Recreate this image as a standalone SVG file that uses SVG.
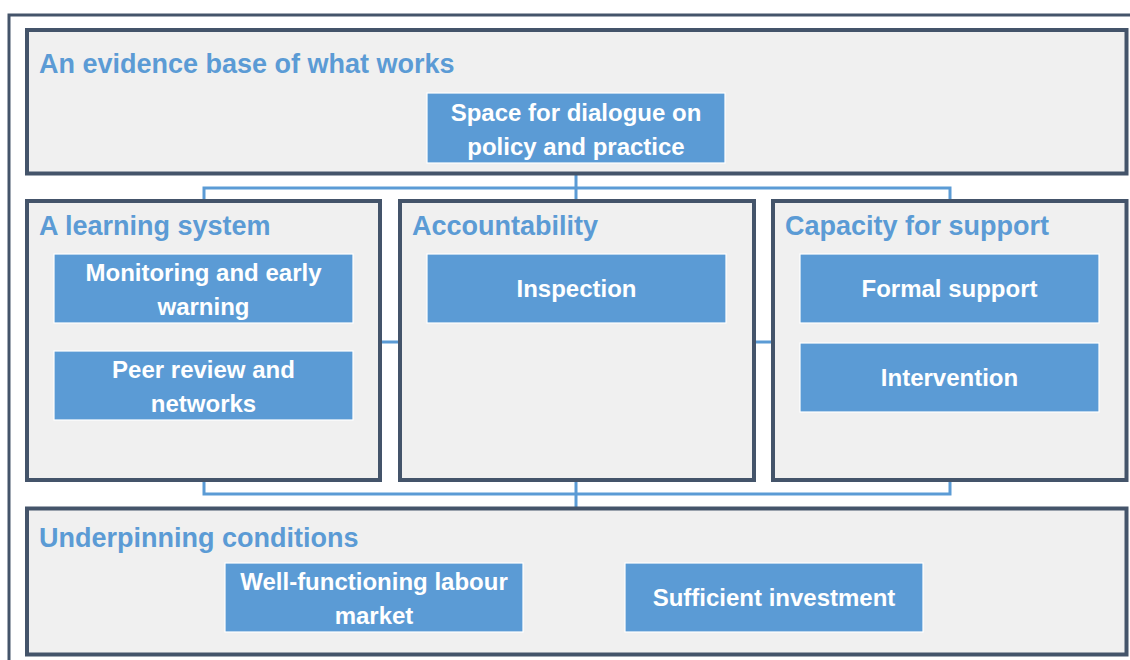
<svg xmlns="http://www.w3.org/2000/svg" width="1130" height="660" viewBox="0 0 1130 660">
<style>
.frame{fill:none;stroke:#44546A;stroke-width:3}
.panel{fill:#F0F0F0;stroke:#44546A;stroke-width:4}
.box{fill:#5B9BD5;stroke:#FFFFFF;stroke-width:1.2}
.title{font-family:"Liberation Sans",Arial,sans-serif;font-weight:bold;font-size:27px;fill:#5B9BD5}
.lbl{font-family:"Liberation Sans",Arial,sans-serif;font-weight:bold;font-size:24px;fill:#FFFFFF;text-anchor:middle}
.conn{fill:none;stroke:#5B9BD5;stroke-width:3}
</style>
<rect width="1130" height="660" fill="#FFFFFF"/>
<rect class="frame" x="9" y="15" width="1200" height="700"/>
<g id="connectors">
<path class="conn" d="M576 173 V201 M204 201 V188 H950 V201"/>
<path class="conn" d="M380 342 H400 M754 342 H773"/>
<path class="conn" d="M204 480 V494 H950 V480 M576 480 V508"/>
</g>
<g id="evidence">
<rect class="panel" x="27" y="30" width="1099.5" height="143.5"/>
<text class="title" x="39" y="73">An evidence base of what works</text>
</g>
<g id="dialogue">
<rect class="box" x="427" y="93" width="298" height="70"/>
<text class="lbl" x="576" y="121">Space for dialogue on</text>
<text class="lbl" x="576" y="155">policy and practice</text>
</g>
<g id="learning">
<rect class="panel" x="27" y="201" width="353" height="279"/>
<text class="title" x="39" y="235">A learning system</text>
</g>
<g id="monitoring">
<rect class="box" x="54" y="254" width="299" height="69"/>
<text class="lbl" x="203.5" y="281">Monitoring and early</text>
<text class="lbl" x="203.5" y="315">warning</text>
</g>
<g id="peer">
<rect class="box" x="54" y="351" width="299" height="69"/>
<text class="lbl" x="203.5" y="378">Peer review and</text>
<text class="lbl" x="203.5" y="412">networks</text>
</g>
<g id="accountability">
<rect class="panel" x="400" y="201" width="354" height="279"/>
<text class="title" x="412" y="235">Accountability</text>
</g>
<g id="inspection">
<rect class="box" x="427" y="254" width="299" height="69"/>
<text class="lbl" x="576.5" y="297">Inspection</text>
</g>
<g id="capacity">
<rect class="panel" x="773" y="201" width="353.5" height="279"/>
<text class="title" x="785" y="235">Capacity for support</text>
</g>
<g id="formal">
<rect class="box" x="800" y="254" width="299" height="69"/>
<text class="lbl" x="949.5" y="297">Formal support</text>
</g>
<g id="intervention">
<rect class="box" x="800" y="343" width="299" height="69"/>
<text class="lbl" x="949.5" y="386">Intervention</text>
</g>
<g id="underpinning">
<rect class="panel" x="27" y="508.5" width="1099.5" height="146"/>
<text class="title" x="39" y="547">Underpinning conditions</text>
</g>
<g id="labour">
<rect class="box" x="225" y="563" width="298" height="69"/>
<text class="lbl" x="374" y="590">Well-functioning labour</text>
<text class="lbl" x="374" y="624">market</text>
</g>
<g id="investment">
<rect class="box" x="625" y="563" width="298" height="69"/>
<text class="lbl" x="774" y="606">Sufficient investment</text>
</g>
</svg>
